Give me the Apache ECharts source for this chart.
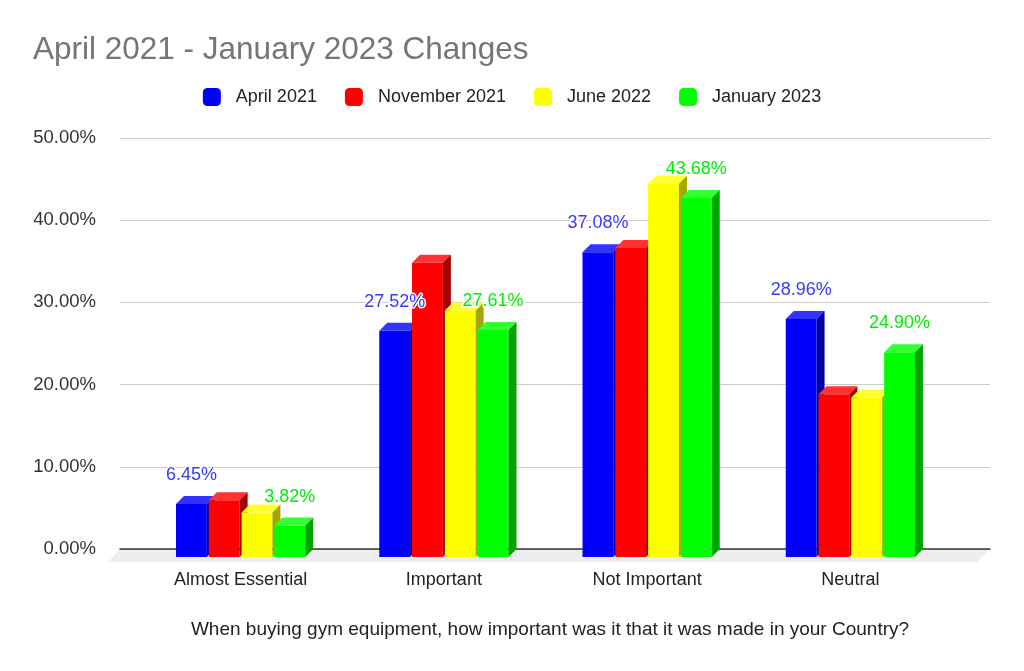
<!DOCTYPE html>
<html>
<head>
<meta charset="utf-8">
<script src="https://cdn.jsdelivr.net/npm/echarts@6/dist/echarts.min.js"></script>
<style>html,body{margin:0;padding:0;background:#fff;}#c{width:1024px;height:671px;}</style>
</head>
<body>
<div id="c"></div>
<script>
var categories = ['Almost Essential', 'Important', 'Not Important', 'Neutral'];
var seriesNames = ['April 2021', 'November 2021', 'June 2022', 'January 2023'];
var april2021 = [6.45, 27.52, 37.08, 28.96];
var november2021 = [6.9, 35.8, 37.6, 19.8];
var june2022 = [5.4, 30.0, 45.4, 19.4];
var january2023 = [3.82, 27.61, 43.68, 24.90];
var yTicks = [0, 10, 20, 30, 40, 50];

var allValues = [april2021, november2021, june2022, january2023];
var showLabel = [true, false, false, true];
var faceColors = [
  {front:'#0000ff', top:'#3333ff', side:'#0000a6', label:'#3838ff'},
  {front:'#ff0000', top:'#ff3333', side:'#a60000', label:'#ff3333'},
  {front:'#ffff00', top:'#ffff33', side:'#a6a600', label:'#c0c000'},
  {front:'#00ff00', top:'#33ff33', side:'#00a600', label:'#00ee00'}
];
var DX = 8, DY = 8;
var FONT = 'Arial, "Liberation Sans", sans-serif';

function makeRender(si) {
  return function (params, api) {
    var ci = api.value(0), v = api.value(1);
    var p0 = api.coord([ci, 0]);
    var pv = api.coord([ci, v]);
    var band = api.size([1, 0])[0];
    var w = band * 0.1516, g = band * 0.0098;
    var groupW = 4 * w + 3 * g;
    var x0 = p0[0] - groupW / 2 + si * (w + g);
    var yb = p0[1] + DY, yt = pv[1] + DY;
    var c = faceColors[si];
    var children = [
      {type:'rect', shape:{x:x0, y:yt, width:w, height:yb - yt}, style:{fill:c.front}},
      {type:'polygon', shape:{points:[[x0, yt],[x0 + w, yt],[x0 + w + DX, yt - DY],[x0 + DX, yt - DY]]}, style:{fill:c.top}},
      {type:'polygon', shape:{points:[[x0 + w, yt],[x0 + w + DX, yt - DY],[x0 + w + DX, yb - DY],[x0 + w, yb]]}, style:{fill:c.side}}
    ];
    if (showLabel[si]) {
      children.push({type:'text', z2: 100, style:{
        text: v.toFixed(2) + '%', x: x0 + w / 2, y: pv[1] - 21,
        align:'center', verticalAlign:'middle',
        font: '18px ' + FONT, fill: c.label,
        stroke:'#fff', lineWidth:3
      }});
    }
    return {type:'group', children: children};
  };
}

var series = seriesNames.map(function (name, si) {
  return {
    name: name, type: 'custom', xAxisIndex: 1, yAxisIndex: 1,
    renderItem: makeRender(si),
    itemStyle: {color: faceColors[si].front},
    data: allValues[si].map(function (v, ci) { return [ci, v]; }),
    encode: {x: 0, y: 1},
    z: 3
  };
});

var chart = echarts.init(document.getElementById('c'));
chart.setOption({
  animation: false,
  backgroundColor: '#fff',
  title: {
    text: 'April 2021 - January 2023 Changes',
    left: 28, top: 29,
    textStyle: {fontFamily: FONT, fontSize: 31.5, fontWeight: 'normal', color: '#757575'}
  },
  legend: {
    data: seriesNames, top: 83, left: 'center',
    itemWidth: 18, itemHeight: 18, itemGap: 28, icon: 'roundRect',
    textStyle: {fontFamily: FONT, fontSize: 18, color: '#222', padding: [0, 0, 0, 10]}
  },
  graphic: [{
    type: 'polygon', z: 0,
    shape: {points: [[120, 549], [990, 549], [977, 562], [108, 562]]},
    style: {fill: '#eeeeee'}
  }, {
    type: 'text', z: 5,
    style: {text: 'When buying gym equipment, how important was it that it was made in your Country?',
      x: 550, y: 630, align: 'center', verticalAlign: 'middle',
      font: '19px ' + FONT, fill: '#222'}
  }],
  grid: [
    {left: 120, right: 34, top: 138, bottom: 122},
    {left: 139, right: 72, top: 138, bottom: 122}
  ],
  xAxis: [
    {type: 'value', gridIndex: 0, min: 0, max: 1, axisLabel: {show: false}, axisTick: {show: false},
      splitLine: {show: false}, axisLine: {show: true, lineStyle: {color: '#333', width: 1.5}}},
    {type: 'category', gridIndex: 1, data: categories, axisLine: {show: false}, axisTick: {show: false},
      axisLabel: {fontFamily: FONT, fontSize: 18, color: '#222', margin: 22}}
  ],
  yAxis: [
    {type: 'value', gridIndex: 0, min: yTicks[0], max: yTicks[yTicks.length - 1], interval: 10,
      axisLine: {show: false}, axisTick: {show: false},
      axisLabel: {margin: 24, fontFamily: FONT, fontSize: 18.5, color: '#333',
        formatter: function (v) { return v.toFixed(2) + '%'; }},
      splitLine: {lineStyle: {color: '#cccccc', width: 1}}},
    {type: 'value', gridIndex: 1, min: yTicks[0], max: yTicks[yTicks.length - 1], interval: 10, show: false}
  ],
  series: series
});
</script>
</body>
</html>
